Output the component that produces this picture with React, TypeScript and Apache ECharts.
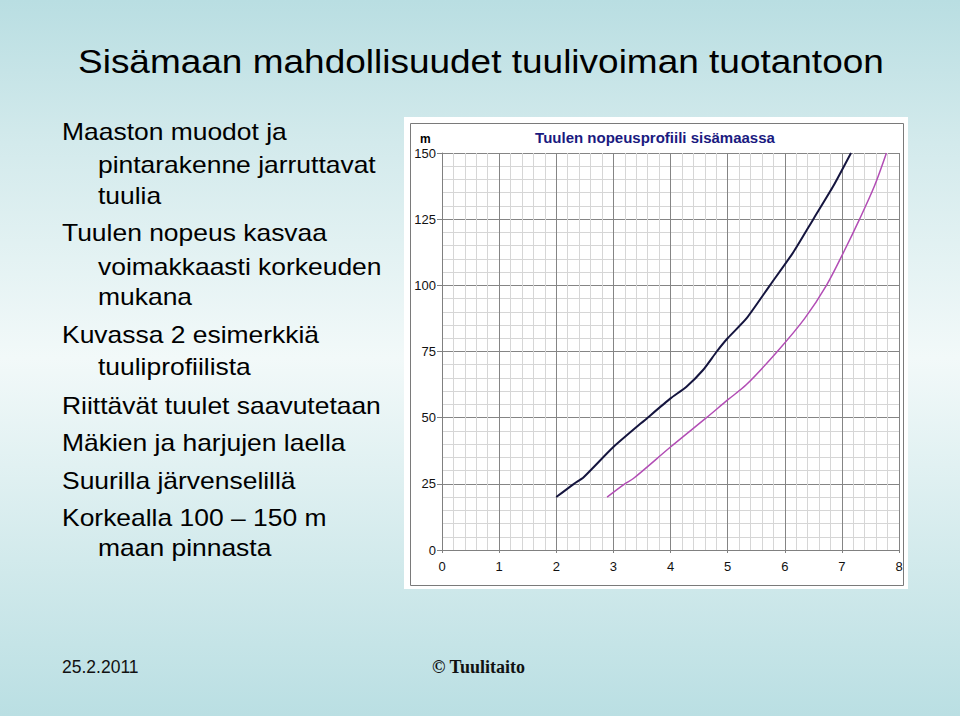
import React, { useEffect, useRef } from "react";
import * as echarts from "echarts";

const titleText = "Sisämaan mahdollisuudet tuulivoiman tuotantoon";
const bulletLines = [
  "Maaston muodot ja",
  "pintarakenne jarruttavat",
  "tuulia",
  "Tuulen nopeus kasvaa",
  "voimakkaasti korkeuden",
  "mukana",
  "Kuvassa 2 esimerkkiä",
  "tuuliprofiilista",
  "Riittävät tuulet saavutetaan",
  "Mäkien ja harjujen laella",
  "Suurilla järvenselillä",
  "Korkealla 100 – 150 m",
  "maan pinnasta",
];
const bulletIndent = [0, 1, 1, 0, 1, 1, 0, 1, 0, 0, 0, 0, 1];
const bulletRowY = [132.5, 165, 196, 233.5, 267.5, 297, 335, 367, 406, 443.5, 481, 518.5, 548.5];

const chartTitle = "Tuulen nopeusprofiili sisämaassa";
const yAxisUnit = "m";
const footerDate = "25.2.2011";
const footerCopy = "© Tuulitaito";

// wind speed (m/s) vs height (m)
const profileAX = [2.0, 2.31, 2.48, 3.0, 3.6, 4.0, 4.28, 4.57, 4.81, 5.0, 5.33, 5.74, 6.15, 6.5, 6.85, 7.16];
const profileAY = [20, 25, 27.5, 38.9, 50, 57.3, 61.7, 68, 75, 80, 87.5, 100, 112.5, 125, 137.5, 150];
const profileBX = [2.89, 3.2, 3.35, 4.0, 4.63, 5.0, 5.33, 5.87, 6.35, 6.73, 7.03, 7.31, 7.57, 7.78];
const profileBY = [20, 25, 27, 38.9, 50, 56.7, 62.5, 75, 87.5, 100, 112.5, 125, 137.5, 150];

const SANS = '"Liberation Sans", Arial, sans-serif';
const SERIF = '"Liberation Serif", "Times New Roman", serif';

function txt(x: number, y: number, text: string, font: string, fill: string, align = "left", scaleX = 1) {
  return {
    type: "text",
    x,
    y,
    scaleX,
    z: 100,
    style: {
      text,
      font,
      fill,
      textAlign: align,
      textVerticalAlign: "middle",
      align,
      verticalAlign: "middle",
    },
  };
}

export default function App() {
  const ref = useRef<HTMLDivElement>(null);
  useEffect(() => {
    document.body.style.margin = "0";
    const chart = echarts.init(ref.current!, null, { renderer: "svg" });
    const elements: any[] = [
      {
        type: "rect",
        z: -100,
        shape: { x: 0, y: 0, width: 960, height: 716 },
        style: {
          fill: new echarts.graphic.LinearGradient(0, 0, 0, 1, [
            { offset: 0, color: "#b9dee2" },
            { offset: 0.2, color: "#d3eaec" },
            { offset: 0.5, color: "#f2f9f9" },
            { offset: 0.8, color: "#d0e9eb" },
            { offset: 1, color: "#badfe3" },
          ]),
        },
      },
      {
        type: "rect",
        z: -90,
        shape: { x: 404, y: 117, width: 504, height: 472 },
        style: { fill: "#ffffff" },
      },
      {
        type: "rect",
        z: -80,
        shape: { x: 410.5, y: 123.5, width: 493, height: 462 },
        style: { fill: "none", stroke: "#7a7a7a", lineWidth: 1 },
      },
      txt(78, 62, titleText, `34px ${SANS}`, "#000000", "left", 1.088),
      ...bulletLines.map((line, i) =>
        txt(bulletIndent[i] ? 98 : 62, bulletRowY[i], line, `23px ${SANS}`, "#000000", "left", 1.15)
      ),
      txt(655, 137, chartTitle, `bold 15px ${SANS}`, "#1a1a80", "center"),
      txt(420, 139, yAxisUnit, `bold 12px ${SANS}`, "#000000", "left"),
      txt(62, 667, footerDate, `17.5px ${SANS}`, "#111111", "left"),
      txt(432, 667, footerCopy, `bold 18px ${SERIF}`, "#111111", "left"),
    ];

    chart.setOption({
      animation: false,
      grid: { left: 442, right: 61, top: 153, bottom: 166, containLabel: false },
      xAxis: {
        type: "value",
        min: 0,
        max: 8,
        interval: 1,
        axisLine: { show: true, lineStyle: { color: "#808080", width: 1 } },
        axisTick: { show: true, length: 3, lineStyle: { color: "#808080" } },
        axisLabel: { fontSize: 13, color: "#111", margin: 10, fontFamily: SANS },
        splitLine: { show: true, lineStyle: { color: "#858585", width: 1 } },
        minorTick: { show: false, splitNumber: 5 },
        minorSplitLine: { show: true, lineStyle: { color: "#d6d6d6", width: 1 } },
      },
      yAxis: {
        type: "value",
        min: 0,
        max: 150,
        interval: 25,
        axisLine: { show: true, lineStyle: { color: "#808080", width: 1 } },
        axisTick: { show: true, length: 5, lineStyle: { color: "#808080" } },
        axisLabel: { fontSize: 13, color: "#111", margin: 6, fontFamily: SANS },
        splitLine: { show: true, lineStyle: { color: "#858585", width: 1 } },
        minorTick: { show: false, splitNumber: 5 },
        minorSplitLine: { show: true, lineStyle: { color: "#d6d6d6", width: 1 } },
      },
      series: [
        {
          type: "line",
          data: profileAX.map((x, i) => [x, profileAY[i]]),
          symbol: "none",
          smooth: 0.2,
          lineStyle: { color: "#15153f", width: 2 },
          z: 5,
        },
        {
          type: "line",
          data: profileBX.map((x, i) => [x, profileBY[i]]),
          symbol: "none",
          smooth: 0.3,
          lineStyle: { color: "#b24db5", width: 1.5 },
          z: 5,
        },
      ],
      graphic: { elements },
    });
    return () => chart.dispose();
  }, []);
  return <div ref={ref} style={{ width: 960, height: 716 }} />;
}
